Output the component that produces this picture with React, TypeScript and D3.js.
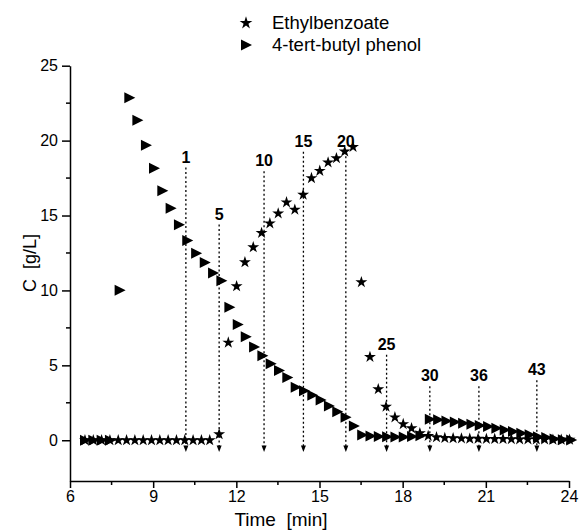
import React, { useEffect, useRef } from 'react';
import * as d3 from 'd3';

// Ethylbenzoate (stars)
const starTime = [6.54, 6.84, 7.14, 7.44, 7.74, 8.04, 8.34, 8.64, 8.94, 9.24, 9.54, 9.84, 10.14, 10.44, 10.74, 11.04,
  11.38, 11.71, 12.01, 12.31, 12.61, 12.91, 13.21, 13.51, 13.81, 14.11, 14.41, 14.71, 15.01, 15.31, 15.61, 15.91, 16.21,
  16.51, 16.82, 17.12, 17.4, 17.72, 18.02, 18.32, 18.62, 18.92, 19.22, 19.52, 19.82, 20.12, 20.42, 20.72, 21.02, 21.32,
  21.62, 21.92, 22.22, 22.52, 22.82, 23.12, 23.42, 23.72, 24.02];
const starConc = [0, 0, 0, 0, 0, 0, 0, 0, 0, 0, 0, 0, 0, 0, 0, 0,
  0.4, 6.52, 10.28, 11.88, 12.88, 13.84, 14.48, 15.14, 15.88, 15.39, 16.39, 17.5, 17.98, 18.54, 18.83, 19.27, 19.58,
  10.55, 5.56, 3.41, 2.24, 1.53, 1.08, 0.8, 0.47, 0.29, 0.2, 0.15, 0.13, 0.12, 0.1, 0.1, 0.09, 0.08,
  0.08, 0.07, 0.06, 0.06, 0.05, 0.05, 0.04, 0.03, 0.03];

// 4-tert-butyl phenol (triangles)
const phenolTime = [6.54, 6.84, 7.14, 7.44, 7.79, 8.14, 8.43, 8.74, 9.03, 9.33, 9.63, 9.93, 10.23, 10.55, 10.86, 11.16,
  11.46, 11.75, 12.05, 12.34, 12.64, 12.94, 13.24, 13.54, 13.84, 14.14, 14.44, 14.74, 15.04, 15.34, 15.64, 15.94, 16.24,
  16.54, 16.84, 17.14, 17.44, 17.74, 18.04, 18.34, 18.64, 18.98, 19.28, 19.58, 19.88, 20.18, 20.48, 20.78, 21.08, 21.38,
  21.68, 21.98, 22.28, 22.58, 22.88, 23.18, 23.48, 23.78, 24.08];
const phenolConc = [0, 0, 0, 0, 10.01, 22.86, 21.36, 19.69, 18.16, 16.65, 15.48, 14.38, 13.33, 12.48, 11.86, 11.16,
  10.65, 8.87, 7.72, 6.9, 6.23, 5.64, 5.1, 4.65, 4.19, 3.53, 3.3, 3.0, 2.68, 2.28, 1.9, 1.53, 0.95,
  0.35, 0.28, 0.25, 0.23, 0.22, 0.21, 0.25, 0.3, 1.4, 1.36, 1.29, 1.22, 1.13, 1.07, 0.98, 0.91, 0.8,
  0.69, 0.58, 0.47, 0.36, 0.24, 0.18, 0.09, 0.04, 0.02];

// sampling arrows
const arrowLabels = ['1', '5', '10', '15', '20', '25', '30', '36', '43'];
const arrowTimes = [10.18, 11.38, 13.0, 14.42, 15.95, 17.42, 18.98, 20.75, 22.84];
const arrowTops = [18.2, 14.4, 17.95, 19.25, 19.25, 5.7, 3.6, 3.6, 4.0];

const xTicks = [6, 9, 12, 15, 18, 21, 24];
const xMinor = [7.5, 10.5, 13.5, 16.5, 19.5, 22.5];
const yTicks = [0, 5, 10, 15, 20, 25];
const yMinor = [2.5, 7.5, 12.5, 17.5, 22.5];

const FONT = '"Liberation Sans", Arial, sans-serif';

const triPath = 'M-5,-5.5L6,0L-5,5.5Z';

const App = () => {
  const ref = useRef(null);

  useEffect(() => {
    const svg = d3.select(ref.current);
    svg.selectAll('*').remove();

    const x = d3.scaleLinear().domain([6, 24]).range([70, 569]);
    const y = d3.scaleLinear().domain([-2.72, 25]).range([481, 65.7]);

    // axes
    const gx = svg.append('g').attr('transform', 'translate(0,481)')
      .call(d3.axisBottom(x).tickValues(xTicks).tickSize(7).tickSizeOuter(0).tickPadding(3).tickFormat(d3.format('d')));
    gx.append('g').selectAll('line').data(xMinor).enter().append('line')
      .attr('x1', d => x(d)).attr('x2', d => x(d)).attr('y1', 0).attr('y2', 4).attr('stroke', '#000');
    const gy = svg.append('g').attr('transform', 'translate(70,0)')
      .call(d3.axisLeft(y).tickValues(yTicks).tickSize(8).tickSizeOuter(0).tickPadding(4).tickFormat(d3.format('d')));
    gy.append('g').selectAll('line').data(yMinor).enter().append('line')
      .attr('y1', d => y(d)).attr('y2', d => y(d)).attr('x1', 0).attr('x2', -4).attr('stroke', '#000');
    [gx, gy].forEach(g => {
      g.selectAll('path, line').attr('stroke', '#000').attr('stroke-width', 1.5);
      g.selectAll('text').attr('font-family', FONT).attr('font-size', 16).attr('fill', '#000');
    });

    // axis titles
    svg.append('text').attr('x', 281).attr('y', 526).attr('text-anchor', 'middle')
      .attr('font-family', FONT).attr('font-size', 19).text('Time\u00a0\u00a0[min]');
    svg.append('text').attr('transform', 'translate(36,263) rotate(-90)').attr('text-anchor', 'middle')
      .attr('font-family', FONT).attr('font-size', 18).text('C\u00a0\u00a0[g/L]');

    // arrows
    const arrows = svg.append('g');
    arrowLabels.forEach((lab, i) => {
      const ax = x(arrowTimes[i]);
      arrows.append('line').attr('x1', ax).attr('x2', ax)
        .attr('y1', y(arrowTops[i])).attr('y2', y(-0.4))
        .attr('stroke', '#000').attr('stroke-width', 1.3).attr('stroke-dasharray', '2,2.5');
      arrows.append('path')
        .attr('d', `M${ax - 2.5},${y(-0.35)}L${ax + 2.5},${y(-0.35)}L${ax},${y(-0.78)}Z`)
        .attr('fill', '#000');
      arrows.append('text').attr('x', ax).attr('y', y(arrowTops[i]) - 5).attr('text-anchor', 'middle')
        .attr('font-family', FONT).attr('font-size', 16).attr('font-weight', 'bold').text(lab);
    });

    // phenol triangles
    svg.append('g').selectAll('path').data(phenolTime).enter().append('path')
      .attr('d', triPath)
      .attr('transform', (d, i) => `translate(${x(d)},${y(phenolConc[i])})`)
      .attr('fill', '#000');

    // ethylbenzoate stars
    const star = d3.symbol().type(d3.symbolStar).size(44);
    svg.append('g').selectAll('path').data(starTime).enter().append('path')
      .attr('d', star())
      .attr('transform', (d, i) => `translate(${x(d)},${y(starConc[i])})`)
      .attr('fill', '#000');

    // legend
    const lg = svg.append('g');
    lg.append('path').attr('d', d3.symbol().type(d3.symbolStar).size(50)()).attr('transform', 'translate(246,23)');
    lg.append('text').attr('x', 272).attr('y', 29).attr('font-family', FONT).attr('font-size', 18.5).text('Ethylbenzoate');
    lg.append('path').attr('d', triPath).attr('transform', 'translate(246,45)');
    lg.append('text').attr('x', 272).attr('y', 51).attr('font-family', FONT).attr('font-size', 18.5).text('4-tert-butyl phenol');
  }, []);

  return (
    <svg ref={ref} width={581} height={531} style={{ position: 'absolute', left: 0, top: 0, background: '#fff' }}></svg>
  );
};

export default App;
